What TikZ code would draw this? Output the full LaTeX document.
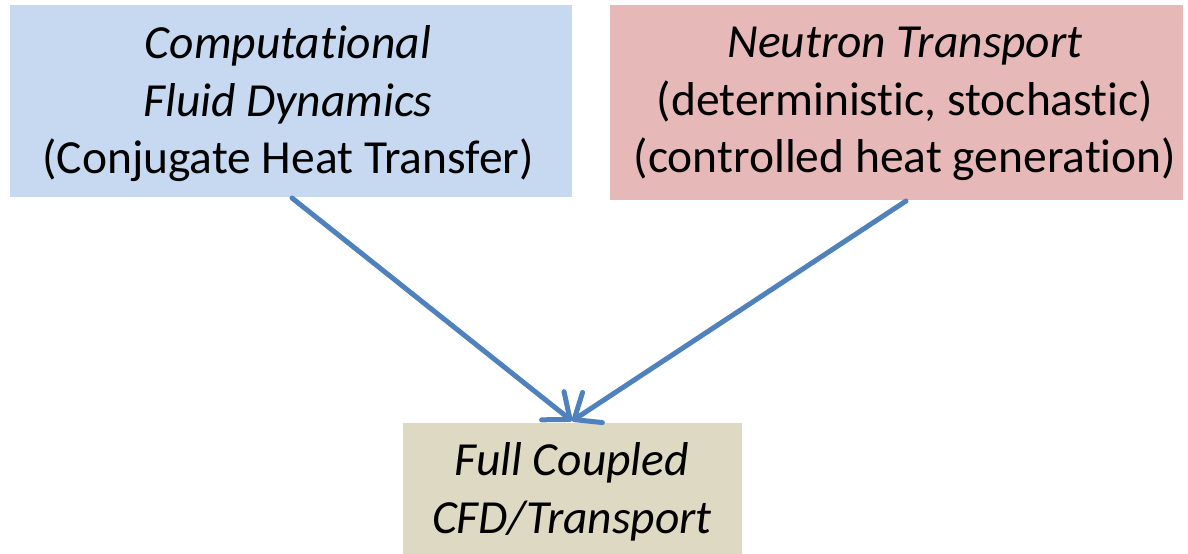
\documentclass[tikz,border=0pt]{standalone}
\usepackage{fontspec}
\setmainfont{Carlito}[Ligatures={NoCommon}]
\usetikzlibrary{arrows.meta}
\definecolor{cfdblue}{HTML}{C6D9F1}
\definecolor{ntred}{HTML}{E6B9B8}
\definecolor{fctan}{HTML}{DDD9C3}
\definecolor{arrowblue}{HTML}{4F81BD}
\tikzset{
  box/.style={inner sep=0pt, align=center, font=\fontsize{47.5bp}{57.5bp}\selectfont},
  link/.style={draw=arrowblue, line width=5bp, line cap=round,
    -{Straight Barb[length=22bp, width=36bp, line cap=round, line join=round]}}
}
\begin{document}
\begin{tikzpicture}[x=1bp,y=-1bp]
\useasboundingbox (0,0) rectangle (1188,554);
\fill[cfdblue] (10,5) rectangle (572,197);
\fill[ntred] (610,5) rectangle (1183,200);
\fill[fctan] (403,423) rectangle (742,554);
\node[box] (cfd) at (288,104) {\textit{Computational}\\\textit{Fluid Dynamics}\\(Conjugate Heat Transfer)};
\node[box] (nt) at (905,104) {\textit{Neutron Transport}\\(deterministic, stochastic)\\(controlled heat generation)};
\node[box] (fc) at (572,492) {\textit{Full Coupled}\\\textit{CFD/Transport}};
\coordinate (s1) at (292,198);
\coordinate (s2) at (906,201);
\coordinate (t) at (572,421);
\draw[link] (s1) -- (t);
\draw[link] (s2) -- (t);
\end{tikzpicture}
\end{document}
